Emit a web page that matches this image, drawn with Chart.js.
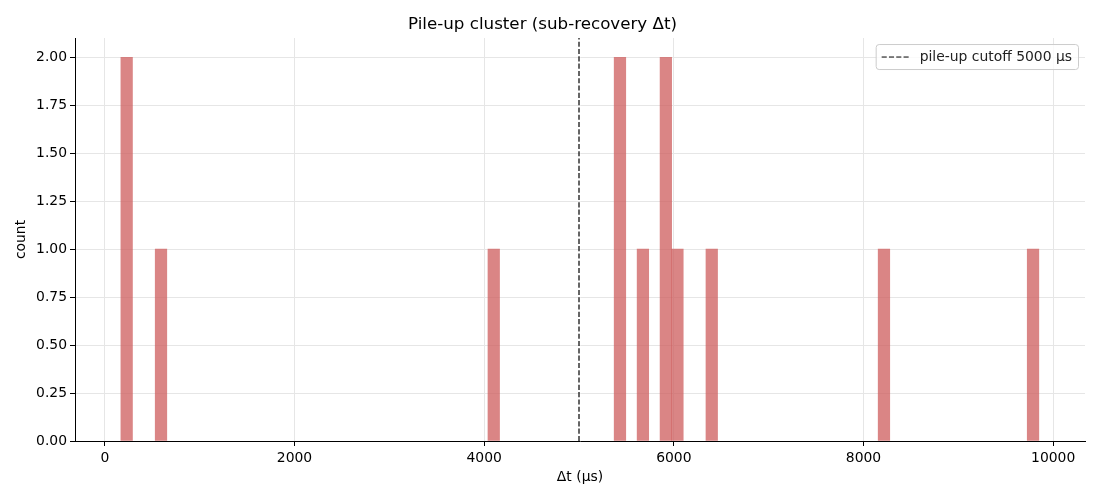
<!DOCTYPE html>
<html>
<head>
<meta charset="utf-8">
<script src="https://cdn.jsdelivr.net/npm/chart.js@4.4.1/dist/chart.umd.min.js"></script>
<style>
  html, body { margin: 0; padding: 0; background: #ffffff; }
  #wrap { width: 1100px; height: 500px; }
</style>
</head>
<body>
<div id="wrap"><canvas id="myChart" width="1100" height="500"></canvas></div>
<script>
// histogram bins (centre of each non-empty bin, in µs) and their counts
const binCenters = [230, 592, 4101, 5432, 5674, 5916, 6038, 6400, 8216, 9788];
const binCounts  = [2, 1, 1, 2, 1, 2, 1, 1, 1, 1];
const cutoff = 5000;
const xTicks = [0, 2000, 4000, 6000, 8000, 10000];
const yTicks = [0, 0.25, 0.5, 0.75, 1.0, 1.25, 1.5, 1.75, 2.0];

const FONT = 'DejaVu Sans';

// legend drawn inside the plot area, top right (like matplotlib)
const innerLegend = {
    id: 'innerLegend',
    afterDraw(chart) {
        const ctx = chart.ctx;
        const area = chart.chartArea;
        const ds = chart.data.datasets[1];
        ctx.save();
        ctx.font = '13.9px "' + FONT + '"';
        const textW = ctx.measureText(ds.label).width;
        const w = 44 + textW + 6;
        const h = 25;
        const x = area.right - 7 - w;
        const y = area.top + 6;
        ctx.fillStyle = 'rgba(255,255,255,0.8)';
        ctx.strokeStyle = '#cccccc';
        ctx.lineWidth = 1;
        ctx.beginPath();
        ctx.roundRect(x + 0.5, y + 0.5, w, h, 3);
        ctx.fill();
        ctx.stroke();
        // dashed sample
        ctx.strokeStyle = '#000000';
        ctx.setLineDash([5.1, 2.2]);
        ctx.beginPath();
        ctx.moveTo(x + 6, y + h / 2 + 0.5);
        ctx.lineTo(x + 33, y + h / 2 + 0.5);
        ctx.stroke();
        ctx.setLineDash([]);
        ctx.fillStyle = '#222222';
        ctx.textBaseline = 'middle';
        ctx.textAlign = 'left';
        ctx.fillText(ds.label, x + 44, y + h / 2 + 1);
        ctx.restore();
    }
};

window.onload = function() {
    const ctx = document.getElementById('myChart').getContext('2d');

    const barData = binCenters.map((c, i) => ({ x: c, y: binCounts[i] }));

    new Chart(ctx, {
        type: 'bar',
        data: {
            datasets: [{
                label: 'count',
                data: barData,
                backgroundColor: 'rgba(205, 92, 92, 0.75)',
                borderWidth: 0,
                barPercentage: 1.0,
                categoryPercentage: 1.0,
                order: 2
            }, {
                type: 'line',
                label: 'pile-up cutoff ' + cutoff + ' μs',
                data: [{ x: cutoff, y: 0 }, { x: cutoff, y: 2.1 }],
                borderColor: '#000000',
                borderWidth: 1.2,
                borderDash: [5.1, 2.2],
                pointRadius: 0,
                fill: false,
                order: 1
            }]
        },
        options: {
            responsive: false,
            animation: false,
            layout: { padding: { left: 0, right: 15, top: 0, bottom: 0 } },
            plugins: {
                legend: { display: false },
                tooltip: { enabled: false },
                title: {
                    display: true,
                    text: 'Pile-up cluster (sub-recovery Δt)',
                    color: '#000000',
                    font: { family: FONT, size: 16.7, weight: 'normal' },
                    padding: { top: 15, bottom: 3 }
                }
            },
            scales: {
                x: {
                    type: 'linear',
                    min: -315,
                    max: 10336,
                    offset: false,
                    afterBuildTicks: (scale) => {
                        scale.ticks = xTicks.map(v => ({ value: v }));
                    },
                    afterFit: (scale) => { scale.height = 59; },
                    ticks: {
                        color: '#000000',
                        font: { family: FONT, size: 13.9 },
                        padding: 4,
                        maxRotation: 0,
                        autoSkip: false,
                        callback: (v) => String(v)
                    },
                    grid: {
                        offset: false,
                        color: '#e6e6e6',
                        tickColor: '#000000',
                        tickLength: 5,
                        drawTicks: true
                    },
                    border: { color: '#000000', width: 1 },
                    title: {
                        display: true,
                        text: 'Δt (μs)',
                        color: '#000000',
                        font: { family: FONT, size: 13.9 },
                        padding: { top: 4, bottom: 14.6 }
                    }
                },
                y: {
                    min: 0,
                    max: 2.1,
                    afterBuildTicks: (scale) => {
                        scale.ticks = yTicks.map(v => ({ value: v }));
                    },
                    afterFit: (scale) => { scale.width = 75; },
                    ticks: {
                        color: '#000000',
                        font: { family: FONT, size: 13.9 },
                        padding: 3,
                        callback: (v) => Number(v).toFixed(2)
                    },
                    grid: {
                        color: '#e6e6e6',
                        tickColor: '#000000',
                        tickLength: 5,
                        drawTicks: true
                    },
                    border: { color: '#000000', width: 1 },
                    title: {
                        display: true,
                        text: 'count',
                        color: '#000000',
                        font: { family: FONT, size: 13.9 },
                        padding: { top: 12.6, bottom: 4 }
                    }
                }
            }
        },
        plugins: [innerLegend]
    });
};
</script>
</body>
</html>
